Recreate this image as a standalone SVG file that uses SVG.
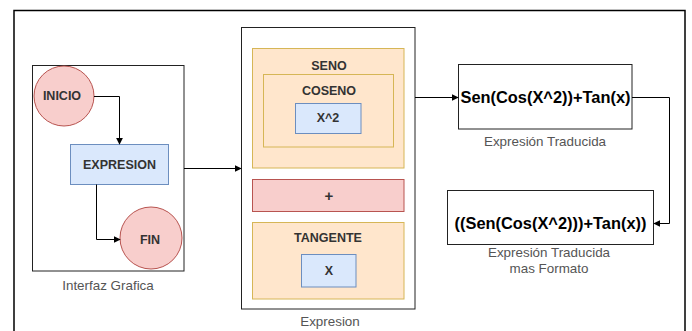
<svg xmlns="http://www.w3.org/2000/svg" width="692" height="331" viewBox="0 0 692 331">
  <style>
    .frame { fill: #ffffff; stroke: #000000; stroke-width: 1.5; }
    .box { fill: #ffffff; stroke: #222222; stroke-width: 1; }
    .red { fill: #f8cecc; stroke: #b85450; stroke-width: 1; }
    .blue { fill: #dae8fc; stroke: #6c8ebf; stroke-width: 1; }
    .orange { fill: #ffe6cc; stroke: #d6b656; stroke-width: 1; }
    .node { font-family: "Liberation Sans", Arial, sans-serif; font-weight: bold; font-size: 12.5px; fill: #333333; text-anchor: middle; dominant-baseline: central; }
    .big { font-family: "Liberation Sans", Arial, sans-serif; font-weight: bold; font-size: 16.4px; fill: #000000; text-anchor: middle; dominant-baseline: central; }
    .label { font-family: "Liberation Sans", Arial, sans-serif; font-size: 13.4px; fill: #555555; text-anchor: middle; dominant-baseline: central; }
    .edge { fill: none; stroke: #000000; stroke-width: 1; }
  </style>
  <defs>
    <marker id="arrow" viewBox="0 0 10 10" refX="9" refY="5" markerWidth="7" markerHeight="7" orient="auto" markerUnits="userSpaceOnUse">
      <path d="M0,0 L10,5 L0,10 Z" fill="#000000"/>
    </marker>
  </defs>

  <!-- outer frame -->
  <rect class="frame" x="14" y="10.5" width="671" height="340"/>

  <!-- GUI container -->
  <g id="interfaz">
    <rect class="box" x="32.5" y="65.5" width="151.5" height="205.5"/>
    <text class="label" x="108" y="285">Interfaz Grafica</text>
  </g>
  <g id="inicio">
    <circle class="red" cx="64" cy="96" r="30"/>
    <text class="node" x="62" y="96">INICIO</text>
  </g>
  <g id="expresion-node">
    <rect class="blue" x="70.5" y="144.5" width="98" height="40"/>
    <text class="node" x="119.5" y="165">EXPRESION</text>
  </g>
  <g id="fin">
    <circle class="red" cx="151" cy="238" r="31"/>
    <text class="node" x="150" y="240">FIN</text>
  </g>

  <!-- expression container -->
  <g id="expresion">
    <rect class="box" x="241.5" y="27.5" width="173.5" height="281.5"/>
    <text class="label" x="330" y="321">Expresion</text>
  </g>
  <g id="seno">
    <rect class="orange" x="252.5" y="48.5" width="151.5" height="119.5"/>
    <text class="node" x="329" y="66">SENO</text>
  </g>
  <g id="coseno">
    <rect class="orange" x="263.5" y="74.5" width="130" height="72.5"/>
    <text class="node" x="329" y="91">COSENO</text>
  </g>
  <g id="x2">
    <rect class="blue" x="295.5" y="103.5" width="65.5" height="30"/>
    <text class="node" x="328" y="118">X^2</text>
  </g>
  <g id="mas">
    <rect class="red" x="252.5" y="179.5" width="151.5" height="32"/>
    <text class="node" x="329" y="195" style="font-size:15px">+</text>
  </g>
  <g id="tangente">
    <rect class="orange" x="252.5" y="222.5" width="151.5" height="76.5"/>
    <text class="node" x="328" y="238">TANGENTE</text>
  </g>
  <g id="x">
    <rect class="blue" x="301.5" y="254.5" width="54.5" height="32.5"/>
    <text class="node" x="329" y="271">X</text>
  </g>

  <!-- translated expressions -->
  <g id="traducida">
    <rect class="box" x="458.5" y="64.5" width="173.5" height="64.5"/>
    <text class="big" x="545.5" y="97">Sen(Cos(X^2))+Tan(x)</text>
    <text class="label" x="545" y="141">Expresión Traducida</text>
  </g>
  <g id="formato">
    <rect class="box" x="447.5" y="190.5" width="206" height="54"/>
    <text class="big" x="550.5" y="223">((Sen(Cos(X^2)))+Tan(x))</text>
    <text class="label" x="549" y="252">Expresión Traducida</text>
    <text class="label" x="549" y="268">mas Formato</text>
  </g>

  <!-- connectors -->
  <g id="connectors">
    <path class="edge" d="M94,96.5 H119.5 V144" marker-end="url(#arrow)"/>
    <path class="edge" d="M96.5,184.5 V239.5 H120" marker-end="url(#arrow)"/>
    <path class="edge" d="M184,168.5 H241" marker-end="url(#arrow)"/>
    <path class="edge" d="M415,97.5 H458" marker-end="url(#arrow)"/>
    <path class="edge" d="M632,97.5 H669.5 V223.5 H654" marker-end="url(#arrow)"/>
  </g>
</svg>
